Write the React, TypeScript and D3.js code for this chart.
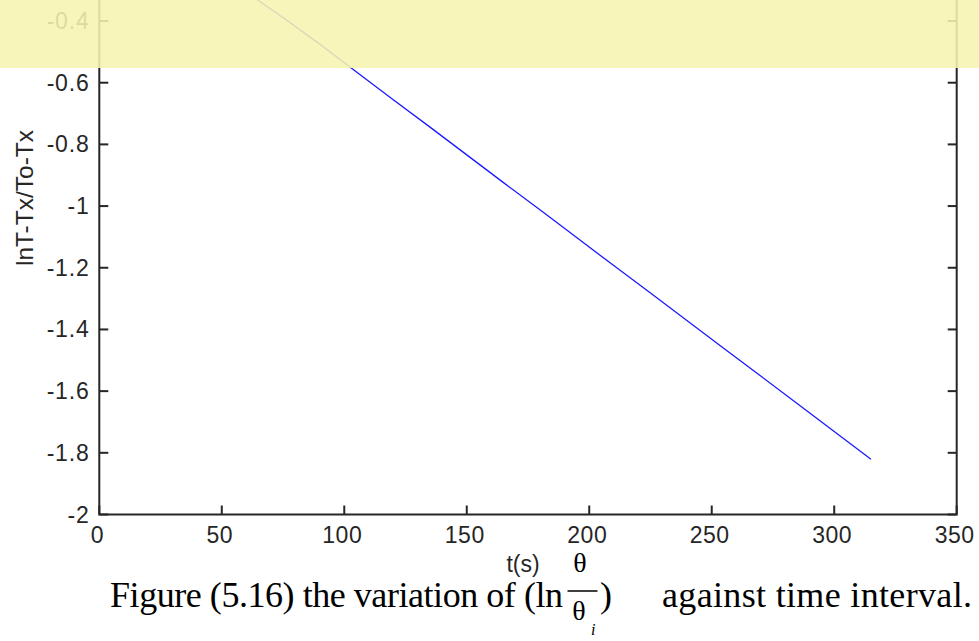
import React from "react";
import * as d3 from "d3";

const timeS = [0, 15, 30, 45, 60, 75, 90, 105, 120, 135, 150, 165, 180, 195, 210, 225, 240, 255, 270, 285, 300, 315];
const lnRatio = [0.04, -0.046, -0.133, -0.219, -0.306, -0.389, -0.475, -0.565, -0.655, -0.744, -0.834, -0.924, -1.013, -1.103, -1.193, -1.282, -1.372, -1.462, -1.551, -1.641, -1.731, -1.821];
const xTicks = [0, 50, 100, 150, 200, 250, 300, 350];
const yTicks = [-2, -1.8, -1.6, -1.4, -1.2, -1, -0.8, -0.6, -0.4, -0.2, 0];
const yLabel = "lnT-Tx/To-Tx";
const xLabel = "t(s)";
const captionStart = "Figure (5.16) the variation of (ln";
const captionParen = ")";
const captionEnd = "against time interval.";

const W = 979;
const H = 641;
const left = 99.3;
const right = 956.7;
const bottom = 514.5;

export default function App() {
  const x = d3.scaleLinear().domain([0, 350]).range([left, right]);
  const y = d3.scaleLinear().domain([-2, -0.6]).range([bottom, 82.7]);
  const top = y(0);
  const line = d3
    .line<number>()
    .x((_, i) => x(timeS[i]))
    .y((d) => y(d));
  const axisColor = "#262626";
  const tickFont = "'Liberation Sans', Arial, sans-serif";
  const serif = "'Liberation Serif', 'Times New Roman', serif";
  const fmt = (v: number) => (Math.abs(v) < 1e-9 ? "0" : String(+v.toFixed(1)));
  return (
    <svg width={W} height={H} style={{ position: "absolute", left: 0, top: 0, background: "#fff" }}>
      <rect x={0} y={0} width={W} height={H} fill="#fff" />
      {/* data line */}
      <path d={line(lnRatio) || ""} fill="none" stroke="#1a1aff" strokeWidth={1.3} />
      {/* axes box */}
      <rect x={left} y={top} width={right - left} height={bottom - top} fill="none" stroke={axisColor} strokeWidth={2} />
      {xTicks.map((t) => (
        <g key={"x" + t}>
          <line x1={x(t)} x2={x(t)} y1={bottom} y2={bottom - 9} stroke={axisColor} strokeWidth={2} />
          <line x1={x(t)} x2={x(t)} y1={top} y2={top + 9} stroke={axisColor} strokeWidth={2} />
          <text x={x(t) - 2} y={543} textAnchor="middle" fontFamily={tickFont} fontSize={23} fill={axisColor} letterSpacing={0.5}>
            {fmt(t)}
          </text>
        </g>
      ))}
      {yTicks.map((v) => (
        <g key={"y" + v}>
          <line x1={left} x2={left + 9} y1={y(v)} y2={y(v)} stroke={axisColor} strokeWidth={2} />
          <line x1={right} x2={right - 9} y1={y(v)} y2={y(v)} stroke={axisColor} strokeWidth={2} />
          {y(v) > 10 && (
            <text x={89.5} y={y(v) + 8} textAnchor="end" fontFamily={tickFont} fontSize={23} fill={axisColor} letterSpacing={0.8}>
              {fmt(v)}
            </text>
          )}
        </g>
      ))}
      <text
        transform={`translate(33,198) rotate(-90)`}
        textAnchor="middle"
        fontFamily={tickFont}
        fontSize={24.5}
        fill={axisColor}
      >
        {yLabel}
      </text>
      <text x={523} y={572} textAnchor="middle" fontFamily={tickFont} fontSize={23} fill={axisColor}>
        {xLabel}
      </text>
      {/* caption */}
      <text x={110} y={606.5} fontFamily={serif} fontSize={36} fill="#000" textLength={453} lengthAdjust="spacing">
        {captionStart}
      </text>
      <text x={580} y={572} textAnchor="middle" fontFamily={serif} fontSize={28} fill="#000">
        θ
      </text>
      <line x1={567.5} x2={597.5} y1={591} y2={591} stroke="#000" strokeWidth={1.5} />
      <text x={579} y={620} textAnchor="middle" fontFamily={serif} fontSize={28} fill="#000">
        θ
      </text>
      <text x={591} y={635} fontFamily={serif} fontSize={16} fontStyle="italic" fill="#000">
        i
      </text>
      <text x={600} y={606.5} fontFamily={serif} fontSize={36} fill="#000">
        {captionParen}
      </text>
      <text x={662} y={606.5} fontFamily={serif} fontSize={36} fill="#000" textLength={310} lengthAdjust="spacing">
        {captionEnd}
      </text>
      {/* highlight overlay */}
      <rect x={0} y={0} width={W} height={68} fill="rgb(246,244,175)" opacity={0.88} />
    </svg>
  );
}
